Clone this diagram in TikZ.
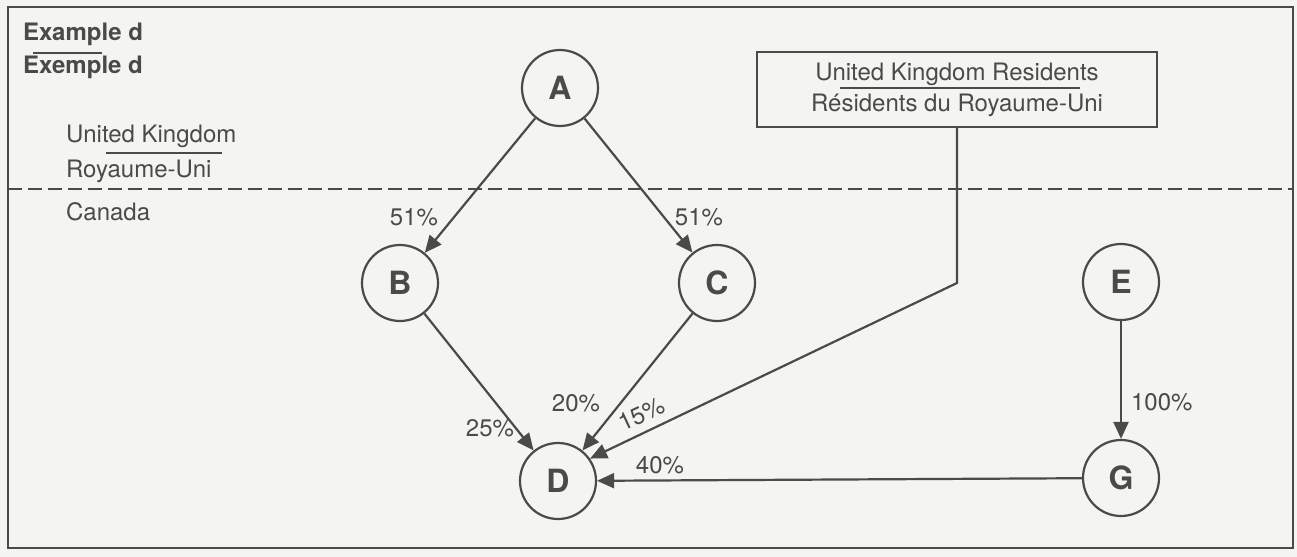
\documentclass[tikz,border=0pt]{standalone}
\usepackage{fontspec}
\setmainfont{TeX Gyre Heros}
\usepackage{tikz}
\usetikzlibrary{arrows.meta}

\definecolor{paper}{HTML}{F4F4F0}
\definecolor{ink}{HTML}{4A4A4A}

\begin{document}
\begin{tikzpicture}[x=0.5pt, y=-0.5pt, line width=1.1pt, color=ink,
    company/.style={circle, draw=ink, minimum size=38pt, inner sep=0pt,
                    font=\fontsize{16}{16}\selectfont\bfseries},
    owns/.style={draw=ink, -{Triangle[length=8.5pt, width=7.5pt]}},
    share/.style={font=\fontsize{12}{14}\selectfont, inner sep=1pt},
    label/.style={font=\fontsize{12}{14}\selectfont, anchor=base west, inner sep=0pt},
    resbox/.style={draw=ink, minimum width=200pt, minimum height=37.5pt,
                   align=center, font=\fontsize{12}{15.5}\selectfont}]

% background and frame
\fill[paper] (0, 0) rectangle (1297, 557);
\useasboundingbox (0, 0) rectangle (1297, 557);
\draw (8, 7) rectangle (1293, 548);

% draw border line between countries
\draw[dash pattern=on 7pt off 3pt] (8, 189) -- (1293, 189);

% draw titles
\node[label, font=\fontsize{12}{14}\selectfont\bfseries] (titleEn) at (22, 40) {Example d};
\draw (33, 53) -- (102, 53);
\node[label, font=\fontsize{12}{14}\selectfont\bfseries] (titleFr) at (22, 73) {Exemple d};

\node[label] (ukEn) at (65, 142) {United Kingdom};
\draw (106, 153) -- (222, 153);
\node[label] (ukFr) at (65, 177) {Royaume-Uni};
\node[label] (canada) at (65, 220) {Canada};

% draw companies
\node[company] (A) at (560, 88) {A};
\node[company] (B) at (400, 283) {B};
\node[company] (C) at (717, 283) {C};
\node[company] (D) at (558, 481) {D};
\node[company] (E) at (1121, 282) {E};
\node[company] (G) at (1121, 478) {G};

% draw residents box
\node[resbox] (res) at (957, 89.5) {United Kingdom Residents\\R\'esidents du Royaume-Uni};
\draw (840, 88) -- (1080, 88);
\coordinate (bend) at (957, 283);

% draw ownership arrows
\draw[owns] (A) -- (B);
\draw[owns] (A) -- (C);
\draw[owns] (B) -- (D);
\draw[owns] (C) -- (D);
\draw[owns] (res) -- (bend) -- (D.35);
\draw[owns] (G) -- (D);
\draw[owns] (E) -- (G);

% draw percentages
\node[share] (pAB) at (414, 217) {51\%};
\node[share] (pAC) at (699, 217) {51\%};
\node[share] (pBD) at (490, 428) {25\%};
\node[share] (pCD) at (576, 403) {20\%};
\node[share, rotate=25] (pRD) at (642, 414) {15\%};
\node[share] (pGD) at (660, 465) {40\%};
\node[share, anchor=west] (pEG) at (1128, 402) {100\%};

\end{tikzpicture}
\end{document}
